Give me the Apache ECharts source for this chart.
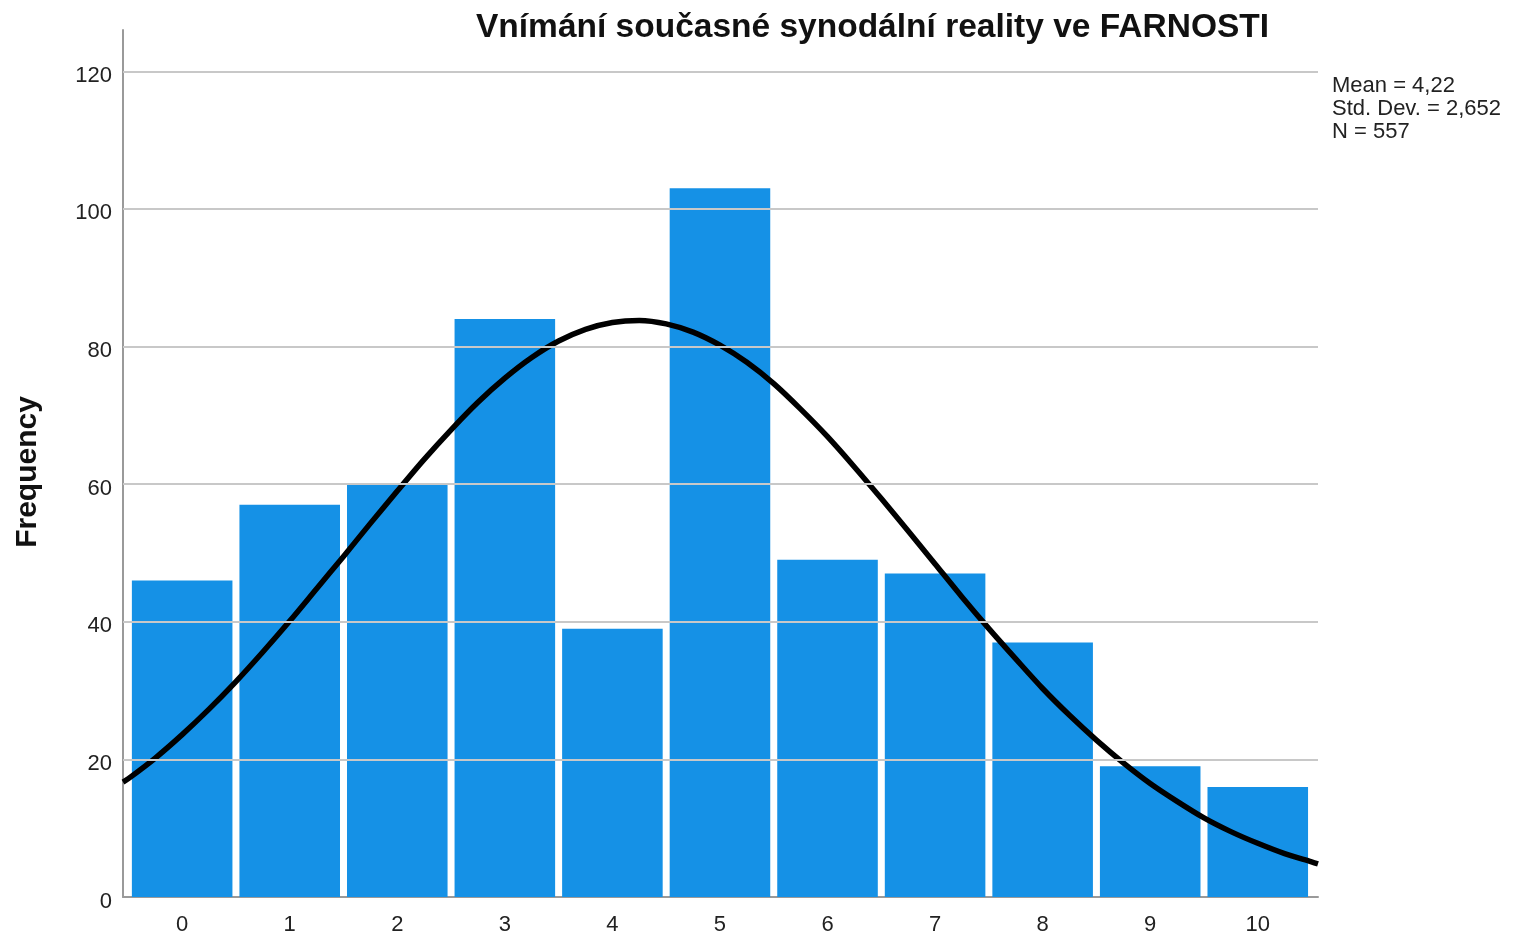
<!DOCTYPE html>
<html>
<head>
<meta charset="utf-8">
<script src="https://cdn.jsdelivr.net/npm/echarts@6/dist/echarts.min.js"></script>
<style>html,body{margin:0;padding:0;background:#fff;}#main{width:1513px;height:936px;}</style>
</head>
<body>
<div id="main"></div>
<script>
const categories = [0, 1, 2, 3, 4, 5, 6, 7, 8, 9, 10];
const frequencies = [46, 57, 60, 84, 39, 103, 49, 47, 37, 19, 16];
const yTicks = [0, 20, 40, 60, 80, 100, 120];
const gridValues = [20, 40, 60, 80, 100, 120];
const curveX = [-0.55, -0.5, -0.25, 0, 0.25, 0.5, 0.75, 1, 1.25, 1.5, 1.75, 2, 2.25, 2.5, 2.75, 3, 3.25, 3.5, 3.75, 4, 4.25, 4.5, 4.75, 5, 5.25, 5.5, 5.75, 6, 6.25, 6.5, 6.75, 7, 7.25, 7.5, 7.75, 8, 8.25, 8.5, 8.75, 9, 9.25, 9.5, 9.75, 10, 10.25, 10.5, 10.56];
const curveY = [16.7, 17.2, 20.2, 23.6, 27.3, 31.3, 35.6, 40.1, 44.8, 49.5, 54.3, 59.0, 63.6, 67.9, 71.9, 75.4, 78.4, 80.8, 82.5, 83.5, 83.8, 83.3, 82.1, 80.2, 77.7, 74.6, 70.9, 66.9, 62.5, 57.9, 53.2, 48.4, 43.6, 39.0, 34.6, 30.3, 26.4, 22.8, 19.5, 16.5, 13.9, 11.5, 9.5, 7.8, 6.3, 5.1, 4.8];
const titleText = 'Vnímání současné synodální reality ve FARNOSTI';
const statsLines = ['Mean = 4,22', 'Std. Dev. = 2,652', 'N = 557'];
const yName = 'Frequency';

const chart = echarts.init(document.getElementById('main'), null, {renderer: 'canvas'});
const font = 'Liberation Sans, Arial, sans-serif';

const option = {
  animation: false,
  backgroundColor: '#fff',
  grid: {left: 123, right: 195, top: 30, bottom: 38, containLabel: false},
  title: {
    text: titleText,
    left: 471, top: 6,
    textStyle: {fontFamily: font, fontWeight: 'bold', fontSize: 33.5, color: '#111'}
  },
  graphic: [
    {
      type: 'text', x: 28, y: 472, rotation: Math.PI / 2,
      style: {text: yName, fontFamily: font, fontWeight: 'bold', fontSize: 30, fill: '#111', align: 'center', verticalAlign: 'middle'}
    },
    {
      type: 'text', x: 1332, y: 74,
      style: {text: statsLines.join('\n'), fontFamily: font, fontSize: 22, lineHeight: 23, fill: '#222', align: 'left', verticalAlign: 'top'}
    }
  ],
  xAxis: {
    type: 'value', min: -0.55, max: 10.56,
    axisLine: {show: true, onZero: false, lineStyle: {color: '#9a9a9a', width: 2}},
    axisTick: {show: false},
    splitLine: {show: false},
    axisLabel: {customValues: categories, margin: 17, fontFamily: font, fontSize: 22, color: '#222'}
  },
  yAxis: {
    type: 'value', min: 0, max: 126,
    axisLine: {show: true, onZero: false, lineStyle: {color: '#9a9a9a', width: 2}},
    axisTick: {show: false},
    splitLine: {show: false},
    axisLabel: {
      customValues: yTicks, margin: 11,
      formatter: '{a|{value}}',
      rich: {a: {padding: [9, 0, 0, 0], fontFamily: font, fontSize: 22, color: '#222'}},
      fontFamily: font, fontSize: 22, color: '#222'
    }
  },
  series: [
    {
      type: 'line', z: 1, data: [], silent: true,
      markLine: {
        silent: true, symbol: 'none', label: {show: false},
        lineStyle: {color: '#c8c8c8', width: 2, type: 'solid'},
        data: gridValues.map(v => ({yAxis: v}))
      }
    },
    {
      type: 'custom', z: 2,
      data: categories.map((c, i) => [c, frequencies[i]]),
      renderItem: function (params, api) {
        const x = api.value(0), y = api.value(1);
        const tl = api.coord([x - 0.5, y]);
        const br = api.coord([x + 0.5, 0]);
        return {
          type: 'rect',
          shape: {x: tl[0] + 3.5, y: tl[1], width: br[0] - tl[0] - 7, height: br[1] - tl[1]},
          style: {fill: '#1591e6'}
        };
      }
    },
    {
      type: 'line', z: 3, smooth: 0.3, symbol: 'none',
      data: curveX.map((x, i) => [x, curveY[i]]),
      lineStyle: {color: '#000', width: 5.5, join: 'round', cap: 'butt'}
    }
  ]
};
chart.setOption(option);
</script>
</body>
</html>
